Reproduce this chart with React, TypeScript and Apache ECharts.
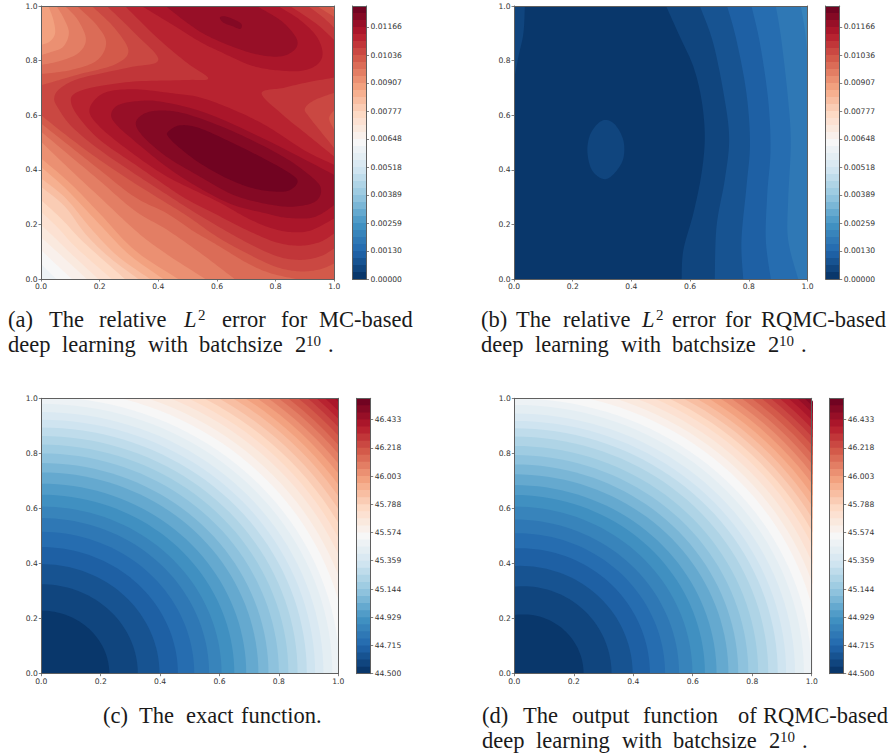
import React, { useEffect, useRef } from "react";
import * as echarts from "echarts";

type P = [number, number];
type Band = [number, P[]];

// RdBu_r anchor colours of the 39-band contour palette
const paletteAnchors = [
  [5, 48, 97], [33, 102, 172], [67, 147, 195], [146, 197, 222], [209, 229, 240], [247, 247, 247],
  [253, 219, 199], [244, 165, 130], [214, 96, 77], [178, 24, 43], [103, 0, 31],
];
const bandCount = 39;

const axisTickValues = [0, 0.2, 0.4, 0.6, 0.8, 1];
const errorBarTicks = ["0.00000", "0.00130", "0.00259", "0.00389", "0.00518", "0.00648", "0.00777", "0.00907", "0.01036", "0.01166"];
const errorBarRange: P = [0, 0.012631];
const valueBarTicks = ["44.500", "44.715", "44.929", "45.144", "45.359", "45.574", "45.788", "46.003", "46.218", "46.433"];
const valueBarRange: P = [44.5, 46.594];

const unitSquare: P[] = [[0, 0], [1, 0], [1, 1], [0, 1]];

// (a) MC error: outline of the region at or above each contour band, in axis units
const mcContours: Band[] = [
  [18, unitSquare],
  [19, [[0, 0.057], [0.025, 0.028], [0.053, 0], [1, 0], [1, 1], [0, 1]]],
  [20, [[0, 0.106], [0.05, 0.055], [0.105, 0], [1, 0], [1, 1], [0, 1]]],
  [21, [[0, 0.153], [0.075, 0.08], [0.156, 0], [1, 0], [1, 1], [0, 1]]],
  [22, [[0, 0.198], [0.05, 0.148], [0.1, 0.095], [0.195, 0], [1, 0], [1, 1], [0, 1]]],
  [23, [[0, 0.247], [0.06, 0.185], [0.12, 0.115], [0.241, 0], [1, 0], [1, 1], [0, 1]]],
  [24, [[0, 0.289], [0.07, 0.22], [0.145, 0.135], [0.286, 0], [1, 0], [1, 1], [0, 1]]],
  [25, [[0, 0.338], [0.082, 0.265], [0.15, 0.167], [0.23, 0.082], [0.332, 0], [1, 0], [1, 1], [0, 1]]],
  [26, [[0, 0.369], [0.085, 0.295], [0.17, 0.185], [0.26, 0.085], [0.372, 0], [1, 0], [1, 1], [0, 1]]],
  [27, [[0, 0.411], [0.09, 0.325], [0.2, 0.2], [0.3, 0.09], [0.417, 0], [1, 0], [1, 1], [0, 1]]],
  [28, [[0, 0.442], [0.1, 0.35], [0.2, 0.24], [0.32, 0.105], [0.468, 0], [1, 0], [1, 1], [0.025, 1], [0.042, 0.95], [0.048, 0.9], [0.03, 0.87], [0, 0.857]]],
  [29, [[0, 0.503], [0.1, 0.4], [0.2, 0.3], [0.33, 0.17], [0.43, 0.09], [0.56, 0], [1, 0], [1, 1], [0.053, 1], [0.08, 0.95], [0.095, 0.9], [0.075, 0.85], [0.03, 0.83], [0, 0.82]]],
  [30, [[0, 0.54], [0.1, 0.45], [0.2, 0.36], [0.32, 0.25], [0.43, 0.18], [0.55, 0.09], [0.66, 0], [1, 0], [1, 1], [0.082, 1], [0.125, 0.95], [0.153, 0.88], [0.13, 0.83], [0.07, 0.8], [0, 0.784]]],
  [31, [[0, 0.57], [0.1, 0.485], [0.2, 0.4], [0.32, 0.3], [0.43, 0.24], [0.52, 0.175], [0.6, 0.125], [0.7, 0.06], [0.78, 0.022], [0.87, 0], [1, 0], [1, 0.985], [0.985, 1], [0.122, 1], [0.19, 0.93], [0.222, 0.865], [0.19, 0.8], [0.1, 0.765], [0, 0.751]]],
  [32, [[0, 0.6], [0.1, 0.515], [0.2, 0.436], [0.32, 0.35], [0.43, 0.277], [0.5, 0.23], [0.6, 0.155], [0.7, 0.095], [0.8, 0.045], [0.88, 0.028], [0.95, 0.035], [1, 0.057], [1, 0.546], [0.982, 0.588], [1, 0.619], [1, 0.96], [0.97, 0.98], [0.941, 1], [0.173, 1], [0.25, 0.92], [0.298, 0.835], [0.25, 0.785], [0.13, 0.75], [0.05, 0.725], [0, 0.71]]],
  [33, [[0.224, 1], [0.32, 0.9], [0.4, 0.802], [0.3, 0.775], [0.133, 0.735], [0.065, 0.698], [0.045, 0.662], [0.059, 0.625], [0.105, 0.558], [0.2, 0.473], [0.32, 0.385], [0.428, 0.31], [0.5, 0.26], [0.6, 0.195], [0.7, 0.135], [0.8, 0.085], [0.88, 0.07], [0.95, 0.082], [1, 0.112], [1, 0.479], [0.917, 0.59], [0.9, 0.625], [0.934, 0.656], [1, 0.682], [1, 0.92], [0.96, 0.96], [0.91, 1]]],
  [34, [[0.286, 1], [0.4, 0.88], [0.5, 0.79], [0.57, 0.735], [0.497, 0.729], [0.315, 0.723], [0.178, 0.702], [0.116, 0.68], [0.102, 0.65], [0.127, 0.595], [0.201, 0.509], [0.32, 0.42], [0.428, 0.34], [0.5, 0.29], [0.6, 0.235], [0.7, 0.18], [0.8, 0.135], [0.88, 0.122], [0.95, 0.135], [1, 0.167], [1, 0.448], [0.906, 0.53], [0.826, 0.6], [0.752, 0.68], [0.826, 0.7], [0.906, 0.72], [1, 0.738], [1, 0.875], [0.94, 0.934], [0.849, 1]]],
  [35, [[0.165, 0.62], [0.2125, 0.68], [0.315, 0.695], [0.45, 0.68], [0.542, 0.665], [0.656, 0.62], [0.77, 0.56], [0.9, 0.47], [1, 0.418], [1, 0.222], [0.92, 0.178], [0.85, 0.172], [0.78, 0.188], [0.7, 0.225], [0.6, 0.285], [0.43, 0.375], [0.3, 0.47], [0.2, 0.558]]],
  [35, [[0.343, 1], [0.45, 0.93], [0.542, 0.869], [0.61, 0.833], [0.712, 0.784], [0.792, 0.766], [0.883, 0.762], [0.94, 0.784], [0.96, 0.826], [0.94, 0.888], [0.883, 0.949], [0.808, 1]]],
  [36, [[0.239, 0.6], [0.258, 0.634], [0.315, 0.65], [0.406, 0.65], [0.565, 0.607], [0.769, 0.509], [1, 0.381], [1, 0.271], [0.95, 0.235], [0.906, 0.222], [0.83, 0.225], [0.769, 0.24], [0.656, 0.271], [0.542, 0.332], [0.428, 0.411], [0.315, 0.509], [0.258, 0.564]]],
  [36, [[0.425, 1], [0.49, 0.945], [0.56, 0.895], [0.655, 0.85], [0.74, 0.822], [0.815, 0.815], [0.86, 0.835], [0.875, 0.865], [0.86, 0.9], [0.815, 0.949], [0.735, 1]]],
  [37, [[0.323, 0.57], [0.349, 0.604], [0.406, 0.617], [0.497, 0.604], [0.656, 0.54], [0.826, 0.448], [0.928, 0.369], [0.955, 0.326], [0.934, 0.283], [0.86, 0.265], [0.769, 0.275], [0.656, 0.308], [0.542, 0.375], [0.428, 0.448], [0.349, 0.521]]],
  [37, [[0.61, 0.958], [0.633, 0.961], [0.681, 0.937], [0.679, 0.916], [0.651, 0.927], [0.622, 0.939]]],
  [38, [[0.434, 0.54], [0.474, 0.563], [0.542, 0.552], [0.656, 0.497], [0.769, 0.436], [0.849, 0.387], [0.875, 0.357], [0.849, 0.326], [0.803, 0.32], [0.724, 0.332], [0.633, 0.369], [0.542, 0.424], [0.474, 0.479], [0.434, 0.521]]],
];

// (b) RQMC error
const rqmcContours: Band[] = [
  [0, unitSquare],
  [1, [[0.037, 1], [0.032, 0.9], [0.015, 0.814], [0, 0.729], [0, 1]]],
  [1, [[0.25, 0.47], [0.262, 0.535], [0.3, 0.58], [0.34, 0.57], [0.372, 0.51], [0.372, 0.44], [0.34, 0.385], [0.305, 0.366], [0.265, 0.4]]],
  [1, [[0.518, 1], [0.565, 0.888], [0.611, 0.778], [0.639, 0.656], [0.65, 0.521], [0.639, 0.387], [0.611, 0.24], [0.577, 0.106], [0.571, 0], [1, 0], [1, 1]]],
  [2, [[0.633, 1], [0.679, 0.863], [0.718, 0.656], [0.733, 0.509], [0.718, 0.363], [0.69, 0.192], [0.684, 0], [1, 0], [1, 1]]],
  [3, [[0.726, 1], [0.758, 0.875], [0.792, 0.68], [0.804, 0.497], [0.792, 0.338], [0.775, 0.143], [0.781, 0], [1, 0], [1, 1]]],
  [4, [[0.809, 1], [0.838, 0.863], [0.866, 0.656], [0.874, 0.473], [0.863, 0.314], [0.858, 0.143], [0.875, 0], [1, 0], [1, 1]]],
  [5, [[0.892, 1], [0.911, 0.875], [0.934, 0.656], [0.943, 0.497], [0.934, 0.289], [0.934, 0.143], [0.968, 0], [1, 0], [1, 1]]],
  [6, [[0.977, 1], [0.991, 0.912], [1, 0.814], [1, 1]]],
];

// (c) exact function: outer radius of each band, read along the axes and the diagonal
const exactRadii = [0.229, 0.325, 0.398, 0.46, 0.515, 0.565, 0.607, 0.65, 0.69, 0.731, 0.765, 0.8, 0.832, 0.863, 0.894, 0.922, 0.95, 0.98, 1.005, 1.035, 1.062, 1.09, 1.115, 1.14, 1.165, 1.19, 1.213, 1.236, 1.258, 1.28, 1.3, 1.322, 1.343, 1.363, 1.383, 1.405];
const exactTopBand = 36;

// (d) network output: where each band's outer edge meets the bottom and the left axis
const outputXCross = [0.233, 0.327, 0.398, 0.456, 0.507, 0.554, 0.599, 0.641, 0.68, 0.72, 0.753, 0.787, 0.82, 0.854, 0.886, 0.914, 0.944, 0.974, 1.0, 1.03, 1.055, 1.08, 1.105, 1.127, 1.15, 1.172, 1.194, 1.216, 1.237, 1.258, 1.279, 1.3, 1.32, 1.34, 1.36, 1.38, 1.397, 1.41];
const outputYCross = [0.213, 0.316, 0.391, 0.455, 0.51, 0.56, 0.607, 0.649, 0.685, 0.724, 0.76, 0.794, 0.827, 0.861, 0.891, 0.918, 0.945, 0.976, 1.0, 1.03, 1.055, 1.08, 1.105, 1.127, 1.15, 1.172, 1.194, 1.216, 1.237, 1.258, 1.279, 1.3, 1.32, 1.34, 1.36, 1.38, 1.397, 1.41];
const outputCenterX = [0.03, 0.03, 0.02, 0.02, 0.01];
const outputTopBand = 38;

type Word = [string, number, number, number?, boolean?];
const captionSize = 22.5;
const supSize = 15;
const captionWords: Word[] = [
  ["(a)", 8, 326], ["The", 49, 326], ["relative", 99, 326], ["L", 184, 326, captionSize, true], ["2", 198, 317, supSize], ["error", 222, 326], ["for", 281, 326], ["MC-based", 319, 326],
  ["deep", 8, 351], ["learning", 62, 351], ["with", 148, 351], ["batchsize", 199, 351], ["2", 295, 351], ["10", 306, 343, supSize], [".", 328, 351],
  ["(b)", 481, 326], ["The", 516, 326], ["relative", 563, 326], ["L", 642, 326, captionSize, true], ["2", 656, 317, supSize], ["error", 672, 326], ["for", 725, 326], ["RQMC-based", 761, 326],
  ["deep", 481, 351], ["learning", 535, 351], ["with", 621, 351], ["batchsize", 672, 351], ["2", 768, 351], ["10", 779, 343, supSize], [".", 801, 351],
  ["(c)", 103, 722], ["The", 139, 722], ["exact", 186, 722], ["function.", 241, 722],
  ["(d)", 482, 722], ["The", 523, 722], ["output", 572, 722], ["function", 643, 722], ["of", 738, 722], ["RQMC-based", 763, 722],
  ["deep", 482, 747], ["learning", 536, 747], ["with", 622, 747], ["batchsize", 673, 747], ["2", 769, 747], ["10", 780, 739, supSize], [".", 802, 747],
];

const panelRects = [
  { plot: [41, 6, 293.3, 273], bar: [352.5, 6, 14, 273] },
  { plot: [514, 6, 293.5, 273], bar: [825.7, 6, 14, 273] },
  { plot: [41.3, 398.3, 297, 275.4], bar: [356.7, 398.3, 14, 275.4] },
  { plot: [514.3, 398.3, 297.4, 275.4], bar: [829.7, 398.3, 14, 275.4] },
];

const spine = "#5f5f5f";
const tickInk = "#333333";
const tickFont = 7.6;

function bandColor(k: number) {
  const t = ((k + 0.5) / bandCount) * (paletteAnchors.length - 1);
  const i = Math.min(Math.floor(t), paletteAnchors.length - 2);
  const f = t - i;
  const c = paletteAnchors[i].map((v, j) => Math.round(v + (paletteAnchors[i + 1][j] - v) * f));
  return `rgb(${c[0]},${c[1]},${c[2]})`;
}

const onSameEdge = (a: P, b: P) =>
  (a[0] === b[0] && (a[0] === 0 || a[0] === 1)) || (a[1] === b[1] && (a[1] === 0 || a[1] === 1));

// Smooth a contour outline through its read points; runs along the frame stay straight.
function smoothLoop(loop: P[]): P[] {
  const n = loop.length;
  const at = (i: number) => loop[((i % n) + n) % n];
  const out: P[] = [];
  for (let i = 0; i < n; i++) {
    const a = at(i), b = at(i + 1);
    if (onSameEdge(a, b)) { out.push(a); continue; }
    const p0 = onSameEdge(at(i - 1), a) ? a : at(i - 1);
    const p3 = onSameEdge(b, at(i + 2)) ? b : at(i + 2);
    const c1: P = [a[0] + (b[0] - p0[0]) / 6, a[1] + (b[1] - p0[1]) / 6];
    const c2: P = [b[0] - (p3[0] - a[0]) / 6, b[1] - (p3[1] - a[1]) / 6];
    for (let s = 0; s < 12; s++) {
      const t = s / 12, u = 1 - t;
      out.push([
        u * u * u * a[0] + 3 * u * u * t * c1[0] + 3 * u * t * t * c2[0] + t * t * t * b[0],
        u * u * u * a[1] + 3 * u * u * t * c1[1] + 3 * u * t * t * c2[1] + t * t * t * b[1],
      ]);
    }
  }
  return out;
}

function contourSeries(bands: Band[], axisIndex: number) {
  const loops = bands.map((b) => smoothLoop(b[1]));
  return {
    type: "custom", xAxisIndex: axisIndex, yAxisIndex: axisIndex, clip: true, silent: true, z: 2,
    data: bands.map((b, i) => [b[0], i]),
    renderItem: (_: any, api: any) => ({
      type: "polygon",
      shape: { points: loops[api.value(1)].map((p) => api.coord(p)) },
      style: { fill: bandColor(api.value(0)) },
    }),
  };
}

function ellipseSeries(rows: number[][], axisIndex: number) {
  return {
    type: "custom", xAxisIndex: axisIndex, yAxisIndex: axisIndex, clip: true, silent: true, z: 3,
    data: rows,
    renderItem: (_: any, api: any) => {
      const cx = api.value(1), rx = api.value(2) - cx;
      const ry = api.value(3) / Math.sqrt(1 - (cx / rx) * (cx / rx));
      const points: number[][] = [];
      for (let i = 0; i < 160; i++) {
        const a = (i / 160) * Math.PI * 2;
        points.push(api.coord([cx + rx * Math.cos(a), ry * Math.sin(a)]));
      }
      return { type: "polygon", shape: { points }, style: { fill: bandColor(api.value(0)) } };
    },
  };
}

function barSeries(range: P, axisIndex: number) {
  const step = (range[1] - range[0]) / bandCount;
  const rows = Array.from({ length: bandCount }, (_, k) => [k, range[0] + k * step]);
  return {
    type: "custom", xAxisIndex: axisIndex, yAxisIndex: axisIndex, clip: true, silent: true, z: 2,
    data: rows,
    renderItem: (_: any, api: any) => {
      const a = api.coord([0, range[1]]), b = api.coord([1, api.value(1)]);
      return { type: "rect", shape: { x: a[0], y: a[1], width: b[0] - a[0], height: b[1] - a[1] }, style: { fill: bandColor(api.value(0)) } };
    },
  };
}

const frameLine = { show: true, onZero: false, lineStyle: { color: spine, width: 1 } };
const plain = { axisTick: { show: false }, axisLabel: { show: false }, splitLine: { show: false } };

function App() {
  const ref = useRef<HTMLDivElement>(null);
  useEffect(() => {
    const chart = echarts.init(ref.current!, undefined, { renderer: "svg" });
    const grids: any[] = [], xAxes: any[] = [], yAxes: any[] = [];
    const addPlot = (r: number[]) => {
      const g = grids.length;
      grids.push({ left: r[0], top: r[1], width: r[2], height: r[3], containLabel: false });
      const ticks = { axisTick: { show: true, length: 2.5, customValues: axisTickValues, lineStyle: { color: spine, width: 0.8 } } };
      const label = { show: true, customValues: axisTickValues, fontSize: tickFont, color: tickInk, fontFamily: "DejaVu Sans", margin: 3.5, formatter: (v: number) => v.toFixed(1), hideOverlap: false };
      xAxes.push({ gridIndex: g, type: "value", min: 0, max: 1, position: "bottom", z: 10, axisLine: frameLine, ...ticks, axisLabel: label, splitLine: { show: false } });
      yAxes.push({ gridIndex: g, type: "value", min: 0, max: 1, position: "left", z: 10, axisLine: frameLine, ...ticks, axisLabel: label, splitLine: { show: false } });
      xAxes.push({ gridIndex: g, type: "value", min: 0, max: 1, position: "top", z: 10, axisLine: frameLine, ...plain });
      yAxes.push({ gridIndex: g, type: "value", min: 0, max: 1, position: "right", z: 10, axisLine: frameLine, ...plain });
    };
    const addBar = (r: number[], range: P, labels: string[]) => {
      const g = grids.length;
      grids.push({ left: r[0], top: r[1], width: r[2], height: r[3], containLabel: false });
      const values = labels.map(Number);
      xAxes.push({ gridIndex: g, type: "value", min: 0, max: 1, position: "bottom", z: 10, axisLine: frameLine, ...plain });
      yAxes.push({
        gridIndex: g, type: "value", min: range[0], max: range[1], position: "right", z: 10, axisLine: frameLine,
        axisTick: { show: true, length: 2.5, customValues: values, lineStyle: { color: spine, width: 0.8 } },
        axisLabel: { show: true, customValues: values, fontSize: tickFont, color: tickInk, fontFamily: "DejaVu Sans", margin: 4, hideOverlap: false, formatter: (v: number) => labels[values.indexOf(v)] },
        splitLine: { show: false },
      });
      xAxes.push({ gridIndex: g, type: "value", min: 0, max: 1, position: "top", z: 10, axisLine: frameLine, ...plain });
      yAxes.push({ gridIndex: g, type: "value", min: range[0], max: range[1], position: "left", z: 10, axisLine: frameLine, ...plain });
    };

    const series: any[] = [];
    // axis indices: each grid owns two x axes and two y axes
    const axisOf = (g: number) => g * 2;
    panelRects.forEach((p) => addPlot(p.plot));
    addBar(panelRects[0].bar, errorBarRange, errorBarTicks);
    addBar(panelRects[1].bar, errorBarRange, errorBarTicks);
    addBar(panelRects[2].bar, valueBarRange, valueBarTicks);
    addBar(panelRects[3].bar, valueBarRange, valueBarTicks);

    series.push(contourSeries(mcContours, axisOf(0)));
    series.push(contourSeries(rqmcContours, axisOf(1)));
    series.push(contourSeries([[exactTopBand, unitSquare]], axisOf(2)));
    series.push(ellipseSeries(exactRadii.map((r, k) => [k, 0, r, r]).reverse(), axisOf(2)));
    series.push(contourSeries([[outputTopBand, unitSquare]], axisOf(3)));
    series.push(ellipseSeries(outputXCross.map((x, k) => [k, outputCenterX[k] ?? 0, x, outputYCross[k]]).reverse(), axisOf(3)));
    series.push(barSeries(errorBarRange, axisOf(4)));
    series.push(barSeries(errorBarRange, axisOf(5)));
    series.push(barSeries(valueBarRange, axisOf(6)));
    series.push(barSeries(valueBarRange, axisOf(7)));

    chart.setOption({
      animation: false,
      backgroundColor: "#ffffff",
      grid: grids,
      xAxis: xAxes,
      yAxis: yAxes,
      series,
      graphic: captionWords.map(([text, x, y, size, italic]) => ({
        type: "text", x, y: y + 5, silent: true,
        style: {
          text, fill: "#1a1a1a", fontFamily: "Liberation Serif", fontSize: size ?? captionSize,
          fontStyle: italic ? "italic" : "normal", verticalAlign: "bottom", align: "left",
        },
      })),
    });
    return () => chart.dispose();
  }, []);
  return <div ref={ref} style={{ position: "absolute", left: 0, top: 0, width: 892, height: 755 }} />;
}

export default App;
